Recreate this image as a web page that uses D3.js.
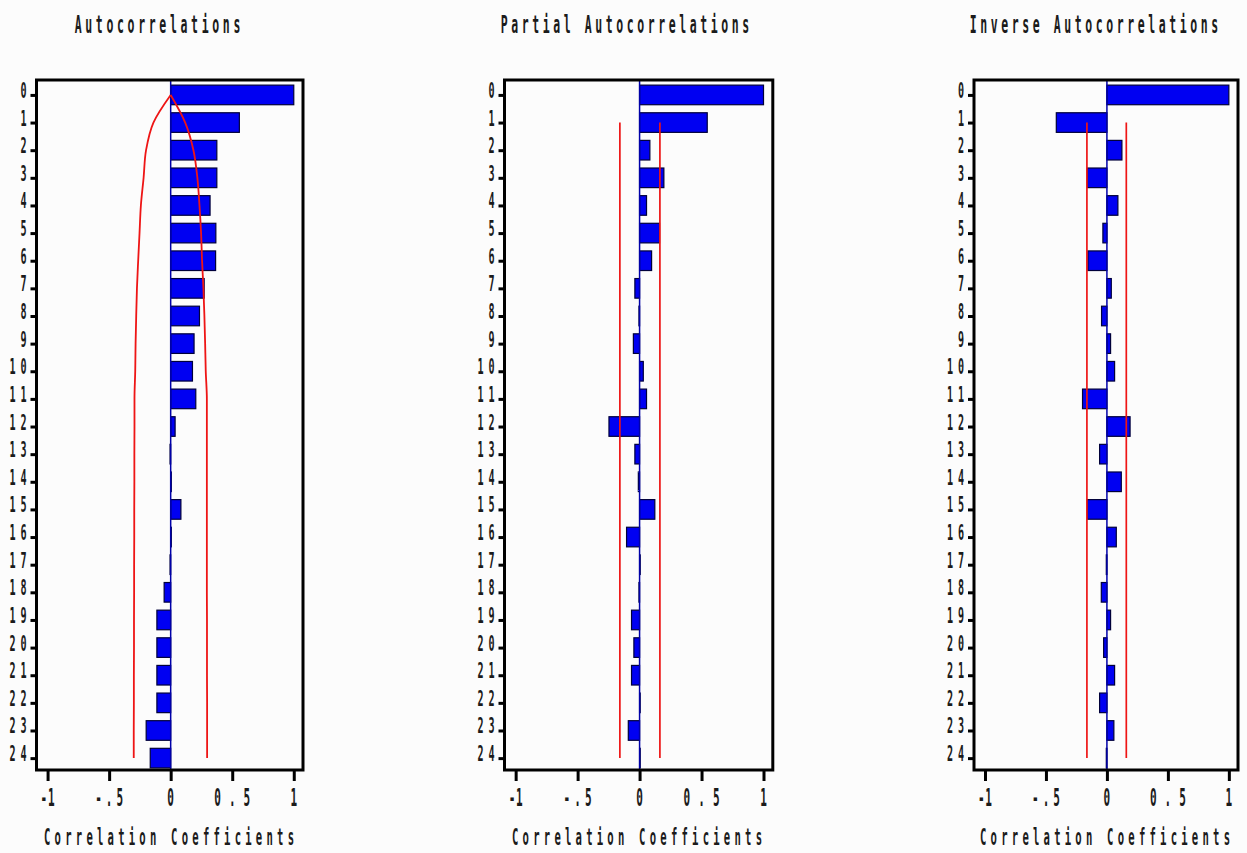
<!DOCTYPE html>
<html>
<head>
<meta charset="utf-8">
<script src="https://cdn.jsdelivr.net/npm/d3@7"></script>
<style>
  html, body { margin: 0; padding: 0; background: #fcfcfc; }
  svg { display: block; }
</style>
</head>
<body>
<svg id="chart" width="1247" height="853"></svg>
<script>
// Lags shown on every panel
const lags = [0, 1, 2, 3, 4, 5, 6, 7, 8, 9, 10, 11, 12, 13, 14, 15, 16, 17, 18, 19, 20, 21, 22, 23, 24];

// Autocorrelation function
const acf = [1.0, 0.558, 0.375, 0.375, 0.32, 0.367, 0.365, 0.272, 0.234, 0.19, 0.177, 0.204,
             0.036, -0.005, 0.005, 0.083, 0.005, -0.005, -0.053, -0.112, -0.112, -0.112, -0.112, -0.199, -0.166];
// Two standard error limits for the autocorrelations
const acfUpper = [0, 0.118, 0.185, 0.217, 0.234, 0.247, 0.255, 0.266, 0.274, 0.28, 0.285, 0.294,
                  0.294, 0.294, 0.294, 0.294, 0.294, 0.294, 0.294, 0.295, 0.295, 0.295, 0.296, 0.296, 0.296];
const acfLower = [0, -0.14, -0.2, -0.22, -0.242, -0.253, -0.264, -0.274, -0.28, -0.285, -0.288, -0.294,
                  -0.294, -0.295, -0.295, -0.296, -0.296, -0.297, -0.297, -0.298, -0.298, -0.299, -0.299, -0.3, -0.3];

// Partial autocorrelation function
const pacf = [1.0, 0.546, 0.083, 0.196, 0.056, 0.161, 0.097, -0.038, -0.005, -0.05, 0.03, 0.056,
              -0.247, -0.038, -0.01, 0.123, -0.105, 0.005, -0.005, -0.065, -0.046, -0.065, 0.003, -0.091, 0.005];
const pacfLimits = [-0.159, 0.164];

// Inverse autocorrelation function
const iacf = [1.0, -0.415, 0.123, -0.161, 0.09, -0.033, -0.156, 0.036, -0.044, 0.03, 0.063, -0.2,
              0.19, -0.06, 0.118, -0.161, 0.077, -0.005, -0.046, 0.03, -0.027, 0.063, -0.06, 0.057, -0.005];
const iacfLimits = [-0.164, 0.159];

// Axis ticks
const xTicks = [-1, -0.5, 0, 0.5, 1];
const xTickLabels = ["-1", "-.5", "0", "0.5", "1"];

const titles = ["Autocorrelations", "Partial Autocorrelations", "Inverse Autocorrelations"];
const xTitle = "Correlation Coefficients";

// ---------------------------------------------------------------------------
const svg = d3.select("#chart");
const FONT = "'DejaVu Sans Mono', 'Liberation Mono', monospace";
const INK = "#1b1b1b";

const frameTop = 80, frameBottom = 770;
const y = d3.scaleLinear().domain([-0.54, 24.43]).range([frameTop, frameBottom]);

const panels = [
  { title: titles[0], values: acf, upper: acfUpper, lower: acfLower, curved: true,
    x0: 36.5, x1: 303, titleX: 157.5, xTitleX: 169 },
  { title: titles[1], values: pacf, limits: pacfLimits,
    x0: 504.5, x1: 772.8, titleX: 625, xTitleX: 637 },
  { title: titles[2], values: iacf, limits: iacfLimits,
    x0: 974, x1: 1238, titleX: 1094, xTitleX: 1105 }
];

// Narrow, tall, spaced-out lettering
function condensed(sel, str, cx, baseline, width, size, anchor) {
  const sx = 0.46;
  const t = sel.append("text")
    .attr("transform", `translate(${cx},${baseline}) scale(${sx},1)`)
    .attr("font-family", FONT)
    .attr("font-size", size)
    .attr("font-weight", "bold")
    .attr("fill", INK)
    .attr("text-anchor", anchor || "middle")
    .text(str);
  if (width && str.length > 1) {
    t.attr("textLength", width / sx).attr("lengthAdjust", "spacing");
  }
  return t;
}

panels.forEach(p => {
  const g = svg.append("g");
  const x = d3.scaleLinear().domain([-1.09, 1.075]).range([p.x0, p.x1]);
  const x0 = x(0);

  // title
  condensed(g, p.title, p.titleX, 33, p.title.length * 10.35, 25);

  // bars
  g.selectAll("rect.bar")
    .data(lags)
    .join("rect")
    .attr("class", "bar")
    .attr("x", d => Math.min(x0, x(p.values[d])))
    .attr("width", d => Math.max(0.6, Math.abs(x(p.values[d]) - x0)))
    .attr("y", d => y(d) - 9.8)
    .attr("height", 19.6)
    .attr("fill", "#0000f2")
    .attr("stroke", "#00003a")
    .attr("stroke-width", 1.2);

  // zero reference line
  g.append("line")
    .attr("x1", x0).attr("x2", x0)
    .attr("y1", frameTop).attr("y2", frameBottom)
    .attr("stroke", "#0000a8").attr("stroke-width", 1.5);

  // confidence limits
  const red = "#ee1515";
  if (p.curved) {
    const line = d3.line().x(d => x(d[0])).y(d => y(d[1])).curve(d3.curveMonotoneY);
    [p.upper, p.lower].forEach(arr => {
      g.append("path")
        .attr("d", line(lags.map(l => [arr[l], l])))
        .attr("fill", "none").attr("stroke", red).attr("stroke-width", 1.8);
    });
  } else {
    const line = d3.line().x(d => x(d[0])).y(d => y(d[1]));
    p.limits.forEach(v => {
      g.append("path")
        .attr("d", line([[v, lags[1]], [v, lags[lags.length - 1]]]))
        .attr("fill", "none").attr("stroke", red).attr("stroke-width", 1.7);
    });
  }

  // frame
  g.append("rect")
    .attr("x", p.x0).attr("y", frameTop)
    .attr("width", p.x1 - p.x0).attr("height", frameBottom - frameTop)
    .attr("fill", "none").attr("stroke", "#000").attr("stroke-width", 3);

  // lag axis (left)
  const yAxis = d3.axisLeft(y).tickValues(lags).tickSize(6).tickFormat(() => "");
  const ya = g.append("g").attr("transform", `translate(${p.x0},0)`).call(yAxis);
  ya.select(".domain").remove();
  ya.selectAll(".tick line").attr("stroke", "#000").attr("stroke-width", 3);
  lags.forEach(l => {
    const s = String(l);
    condensed(g, s, p.x0 - 10, y(l) + 3, s.length > 1 ? 17 : null, 22, "end");
  });

  // correlation axis (bottom)
  const xAxis = d3.axisBottom(x).tickValues(xTicks).tickSize(11).tickFormat(() => "");
  const xa = g.append("g").attr("transform", `translate(0,${frameBottom})`).call(xAxis);
  xa.select(".domain").remove();
  xa.selectAll(".tick line").attr("stroke", "#000").attr("stroke-width", 3);
  const labelWidths = { "-1": 14, "-.5": 28, "0": null, "0.5": 36, "1": null };
  xTicks.forEach((t, i) => {
    const s = xTickLabels[i];
    condensed(g, s, x(t), 806, labelWidths[s], 24);
  });

  // axis title
  condensed(g, xTitle, p.xTitleX, 845, 250, 23);
});
</script>
</body>
</html>
